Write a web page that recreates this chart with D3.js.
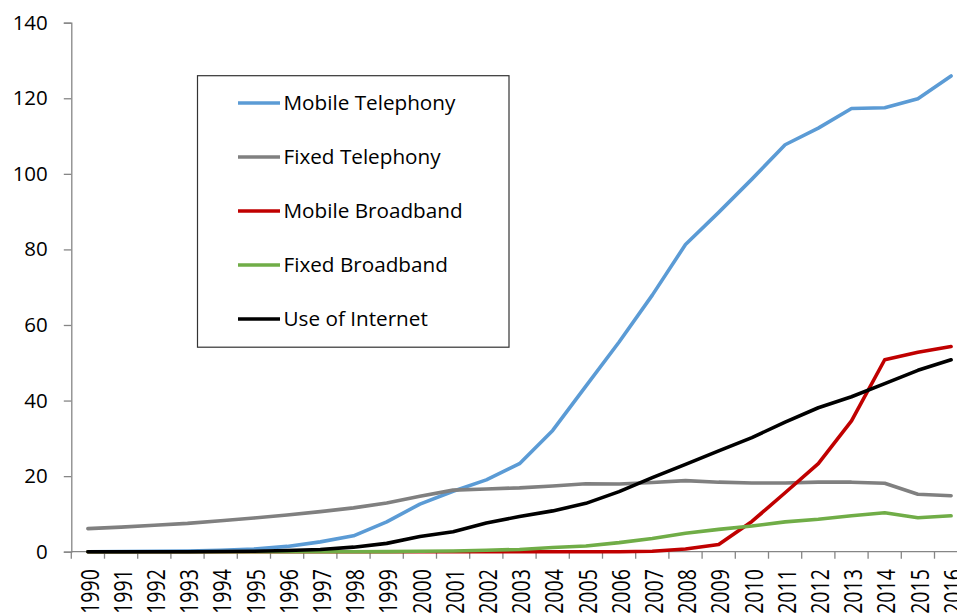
<!DOCTYPE html>
<html><head><meta charset="utf-8">
<script src="https://cdn.jsdelivr.net/npm/d3@7"></script>
<style>
html,body{margin:0;padding:0;background:#fff;overflow:hidden}
text{font-family:"Open Sans",sans-serif;fill:#000}
</style></head>
<body><svg id="c" width="957" height="616"></svg>
<script>
const years = d3.range(1990, 2017).map(String);
const yTicks = [0, 20, 40, 60, 80, 100, 120, 140];
const seriesNames = ["Mobile Telephony", "Fixed Telephony", "Mobile Broadband", "Fixed Broadband", "Use of Internet"];
const seriesColors = ["#5B9BD5", "#808080", "#C00000", "#70AD47", "#000000"];
const mobileTelephony = [0, 0.02, 0.1, 0.2, 0.4, 0.7, 1.4, 2.6, 4.2, 7.9, 12.6, 16.0, 19.0, 23.3, 32.1, 43.8, 55.5, 67.9, 81.3, 89.8, 98.6, 107.7, 112.1, 117.3, 117.5, 119.9, 125.9];
const fixedTelephony = [6.1, 6.5, 7.0, 7.5, 8.2, 8.9, 9.7, 10.6, 11.6, 12.9, 14.7, 16.3, 16.6, 16.9, 17.4, 18.0, 17.9, 18.3, 18.8, 18.4, 18.2, 18.2, 18.4, 18.4, 18.1, 15.2, 14.8];
const mobileBroadband = [0, 0, 0, 0, 0, 0, 0, 0, 0, 0, 0, 0, 0, 0, 0, 0, 0, 0.1, 0.7, 1.9, 8.0, 15.6, 23.3, 34.6, 50.8, 52.8, 54.3];
const fixedBroadband = [0, 0, 0, 0, 0, 0, 0, 0, 0, 0.02, 0.1, 0.2, 0.4, 0.6, 1.1, 1.5, 2.4, 3.5, 4.9, 5.9, 6.8, 7.9, 8.6, 9.5, 10.3, 9.0, 9.5];
const useOfInternet = [0, 0, 0, 0, 0.05, 0.1, 0.3, 0.6, 1.2, 2.2, 4.0, 5.3, 7.6, 9.3, 10.8, 12.8, 15.9, 19.6, 23.1, 26.7, 30.2, 34.3, 38.1, 41.0, 44.5, 48.0, 50.8];
const seriesValues = [mobileTelephony, fixedTelephony, mobileBroadband, fixedBroadband, useOfInternet];

const svg = d3.select("#c");
const axisColor = "#868686";
const x = d3.scaleBand().domain(years).range([71.3, 71.3 + 27 * 33.2]);
const y = d3.scaleLinear().domain([0, 140]).range([551.7, 22.7]);
const cx = d => x(d) + x.bandwidth() / 2;

// Y axis
const ya = svg.append("g").attr("transform", "translate(71.3,0)")
  .call(d3.axisLeft(y).tickValues(yTicks).tickSize(7.5).tickPadding(16).tickFormat(d3.format("d")));
ya.select(".domain").attr("stroke", axisColor).attr("stroke-width", 1.3);
ya.selectAll(".tick line").attr("stroke", axisColor).attr("stroke-width", 1.3);
ya.selectAll(".tick text").attr("font-size", 20.5).attr("font-family", "Open Sans").attr("fill", "#000");

// X axis
const xg = svg.append("g");
xg.append("line").attr("x1", 71.3).attr("x2", 990).attr("y1", y(0)).attr("y2", y(0))
  .attr("stroke", axisColor).attr("stroke-width", 1.3);
const bounds = years.map(d => x(d)).concat([x(years[years.length - 1]) + x.bandwidth()]);
xg.selectAll("line.tk").data(bounds).enter().append("line").attr("class", "tk")
  .attr("x1", d => d).attr("x2", d => d).attr("y1", y(0)).attr("y2", y(0) + 7)
  .attr("stroke", axisColor).attr("stroke-width", 1.3);
xg.selectAll("text.yr").data(years).enter().append("text").attr("class", "yr")
  .attr("transform", d => `translate(${cx(d) + 1.5},${y(0) + 17.5}) rotate(-90) scale(1,1.3)`)
  .attr("text-anchor", "end").attr("dy", "0.36em").attr("font-size", 19.5).text(d => d);

// Lines
const line = d3.line().x((v, i) => cx(years[i])).y(v => y(v));
seriesValues.forEach((vals, k) => {
  svg.append("path").datum(vals).attr("d", line).attr("fill", "none")
    .attr("stroke", seriesColors[k]).attr("stroke-width", 3.6)
    .attr("stroke-linejoin", "round").attr("stroke-linecap", "round");
});

// Legend
const lg = svg.append("g");
lg.append("rect").attr("x", 197.5).attr("y", 75.7).attr("width", 311.5).attr("height", 271.5)
  .attr("fill", "#fff").attr("stroke", "#333").attr("stroke-width", 1.2);
const ly = d3.scalePoint().domain(seriesNames).range([103, 319]);
seriesNames.forEach((n, k) => {
  lg.append("line").attr("x1", 238).attr("x2", 280).attr("y1", ly(n)).attr("y2", ly(n))
    .attr("stroke", seriesColors[k]).attr("stroke-width", 3.6);
  lg.append("text").attr("x", 283.5).attr("y", ly(n)).attr("dy", "0.36em")
    .attr("font-size", 20.7).text(n);
});
</script></body></html>
